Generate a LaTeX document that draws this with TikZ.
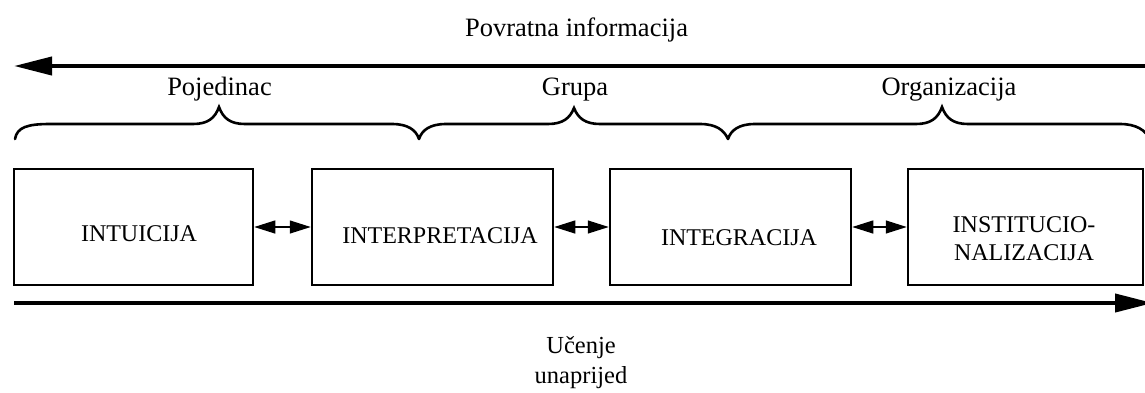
\documentclass[tikz,border=0pt]{standalone}
\usepackage{fontspec}
\setmainfont{Liberation Serif}
\usetikzlibrary{arrows.meta}
\begin{document}
\begin{tikzpicture}[x=1pt,y=-1pt,
  stagebox/.style={draw, line width=2.5pt, minimum width=#1, minimum height=116pt, inner sep=0pt},
  boxtext/.style={inner sep=0pt, font=\fontsize{24}{28}\selectfont, anchor=base},
  grouplabel/.style={inner sep=0pt, font=\fontsize{26.5}{30}\selectfont, anchor=base},
  flowtext/.style={inner sep=0pt, font=\fontsize{24.5}{30}\selectfont, anchor=base},
  mainarrow/.style={line width=4pt, -{Triangle[length=38pt,width=18pt]}},
  linkarrow/.style={line width=1.2pt, {Triangle[length=21pt,width=13pt]}-{Triangle[length=21pt,width=13pt]}},
  bracepath/.style={line width=2.6pt, line cap=round}
]
\useasboundingbox (0,0) rectangle (1145,392);

% title and feedback arrow
\node[grouplabel] (fbtext) at (576.5,36) {Povratna informacija};
\coordinate (fbR) at (1150,66);
\coordinate (fbL) at (14,66);
\draw[mainarrow] (fbR) -- (fbL);

% group labels
\node[grouplabel] (g1) at (219.5,95) {Pojedinac};
\node[grouplabel] (g2) at (575,95) {Grupa};
\node[grouplabel] (g3) at (949,95) {Organizacija};

% braces
\draw[bracepath] (15,139) .. controls (17,127) and (28,124) .. (50,124)
  -- (193,124) .. controls (208,124) and (215,118) .. (219,107)
  .. controls (223,118) and (230,124) .. (245,124)
  -- (392,124) .. controls (408,124) and (416,130) .. (419,139);
\draw[bracepath] (419,139) .. controls (422,130) and (430,124) .. (446,124)
  -- (548,124) .. controls (563,124) and (570,118) .. (574,108)
  .. controls (578,118) and (585,124) .. (600,124)
  -- (700,124) .. controls (716,124) and (724,130) .. (728,139);
\draw[bracepath] (728,139) .. controls (731,130) and (739,124) .. (755,124)
  -- (916,124) .. controls (931,124) and (938,118) .. (942,107)
  .. controls (946,118) and (953,124) .. (968,124)
  -- (1120,124) .. controls (1136,124) and (1146,130) .. (1150,140);

% stage boxes
\node[stagebox=239pt] (b1) at (133.5,227) {};
\node[stagebox=241pt] (b2) at (432.5,227) {};
\node[stagebox=241pt] (b3) at (730.5,227) {};
\node[stagebox=235pt] (b4) at (1025.5,227) {};

\node[boxtext] (t1) at (139,241) {INTUICIJA};
\node[boxtext] (t2) at (440,243) {INTERPRETACIJA};
\node[boxtext] (t3) at (739,245) {INTEGRACIJA};
\node[boxtext] (t4a) at (1024,232) {INSTITUCIO-};
\node[boxtext] (t4b) at (1024,260) {NALIZACIJA};

% links between boxes
\draw[linkarrow] (b1.east) -- (b2.west);
\draw[linkarrow] (b2.east) -- (b3.west);
\draw[linkarrow] (b3.east) -- (b4.west);

% forward learning arrow
\coordinate (lfL) at (14,303);
\coordinate (lfR) at (1153,303);
\draw[mainarrow] (lfL) -- (lfR);
\node[flowtext] (u1) at (581,353) {Učenje};
\node[flowtext] (u2) at (581,383) {unaprijed};
\end{tikzpicture}
\end{document}
